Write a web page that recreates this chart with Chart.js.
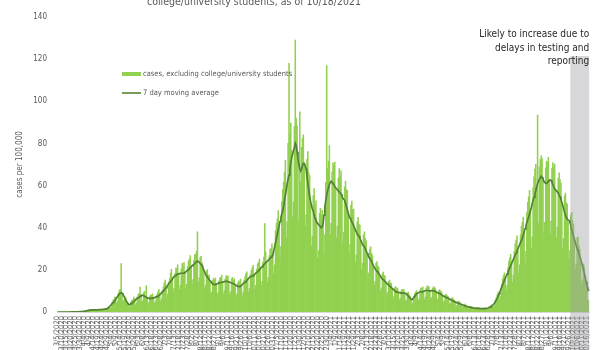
<!DOCTYPE html>
<html>
<head>
<meta charset="utf-8">
<script src="https://cdn.jsdelivr.net/npm/chart.js@4.4.0/dist/chart.umd.min.js"></script>
<style>
  html, body { margin: 0; padding: 0; background: #fff; overflow: hidden; }
</style>
</head>
<body>
<canvas id="chart" width="600" height="350"></canvas>
<script>
// daily cases per 100,000 (excluding college/university students), starting 3/5/2020
const cases = [
  0,0,0,0,0,0,0,
  0,0,0,0,0,0,0.1,
  0,0.1,0.1,0.1,0.1,0.2,0.1,
  0.1,0.1,0.2,0.2,0.2,0.3,0.2,
  0.2,0.3,0.4,0.4,0.6,0.7,0.9,
  0.9,1,0.8,1.2,1.1,0.9,1,
  1.1,0.8,1.2,1,1.3,1.1,0.9,
  1.2,1.3,1,1.5,1.6,1.4,1.8,
  2.1,2.6,2.4,1.6,2.3,4.6,5.5,
  5.9,7.2,6.8,4.1,5.2,9.1,10.4,
  10.8,23,8.1,5.2,5.6,7.3,6.9,
  5.1,4.6,3.8,2.2,2.9,4.8,5.6,
  5.8,7.1,6.2,3.4,4.3,7.2,8.4,
  8.9,11.8,7.6,4.6,5.4,9.2,9.8,
  7.8,12.5,6.4,3.9,4.6,7.6,8.1,
  7.9,8.6,6.7,4.1,4.8,7.6,8.4,
  9.6,10.8,8.9,5.1,6.2,10.2,11.8,
  13.8,15.1,12.4,7.2,8.6,14.1,15.9,
  18.5,20.2,16.4,9.8,11.2,18.4,20.8,
  20.9,22.4,17.9,10.8,12.6,20.5,23.1,
  21.8,23.5,19.2,11.4,13.1,21.6,24.2,
  25.1,26.8,21.9,13.1,15.4,24.6,27.2,
  27.5,28.9,38,14.1,16.2,25.8,26.4,
  23.4,22.1,18.6,11.2,12.8,19.4,20.1,
  17.1,17.6,14.2,8.4,9.6,15.2,16.1,
  15.2,16.1,13.1,8.1,9.2,14.8,16.2,
  16.4,17.5,14.1,8.6,10.1,15.8,17.3,
  16.8,17.2,14.2,8.4,9.6,15.6,16.4,
  15.1,15.8,12.6,7.5,8.6,13.9,14.8,
  14.2,15.6,12.8,7.8,9.4,15.1,16.8,
  18.2,19.1,15.9,9.6,11.2,17.9,19.8,
  20.8,22.1,18.1,10.9,12.6,20.4,22.9,
  23.4,25.1,21.2,12.6,14.5,23.6,26.2,
  42,28.6,23.9,14.2,16.4,26.8,29.7,
  30.1,32.4,28.2,18.1,22.4,38.6,42.1,
  44.2,48.1,42.6,25.8,31.2,52.4,58.1,
  61.5,66.2,72,35.1,42.8,80,118,
  84.2,89.6,76.8,45.1,52.3,88,129,
  92,88.4,72.1,42.6,95,61.8,78.2,
  82.4,84.1,69.5,40.8,46.2,72.4,76.1,
  66.2,64.8,52.1,31.4,35.8,55.2,58.6,
  51.2,52.8,42.9,25.6,29.1,46.8,49.2,
  46.1,48.2,41.2,27.6,36.8,61.4,117,
  68.2,71.6,79,36.8,42.1,66.5,70.8,
  69.4,71.2,58.6,35.2,40.6,63.5,68.1,
  64.2,67,55.1,32.6,37.8,59.4,62.1,
  58.1,57.6,47.2,28.1,32.2,50.8,52.6,
  48.6,48.9,39.8,23.6,27.1,42.8,44.9,
  41.6,41.2,33.9,20.1,23.2,36.5,38.1,
  34.8,33.8,27.6,16.2,18.6,29.8,30.9,
  27.9,26.8,21.8,12.9,14.6,23.1,23.9,
  21.9,21.2,17.1,10.1,11.4,18.1,18.9,
  17.4,17.1,13.8,8.2,9.4,14.5,15.2,
  13.9,13.6,11.1,6.5,7.4,11.6,12.1,
  10.9,11.3,9.2,5.6,6.4,10.1,10.8,
  10.4,10.6,8.8,5.1,5.8,9.1,9.4,
  8.1,7.6,6.1,3.7,4.5,7.4,8.8,
  9.4,10.2,8.9,5.4,6.3,10.4,11.5,
  11.2,11.9,9.8,5.9,7.1,11.3,12.4,
  11.8,12.1,10.1,6.1,7,11.2,12.1,
  11.4,11.5,9.4,5.6,6.4,10.2,10.6,
  9.8,9.6,7.8,4.7,5.3,8.2,8.5,
  7.8,7.6,6.1,3.7,4.2,6.5,6.8,
  6.1,5.8,4.7,2.8,3.1,5,5.2,
  4.7,4.4,3.5,2.1,2.4,3.6,3.7,
  3.3,3.1,2.5,1.5,1.7,2.6,2.7,
  2.4,2.3,1.9,1.1,1.3,2,2.1,
  2,1.9,1.6,1,1.1,1.8,1.9,
  1.9,2,1.7,1.1,1.3,2.3,2.8,
  3.1,3.5,3.2,2.2,3,5.5,6.9,
  8.1,9.4,8.8,5.9,7.6,13.2,15.8,
  17.2,18.6,16.1,10.4,12.6,21.1,24.2,
  25.8,27.4,23.1,14.2,17.5,28.8,32.4,
  34.1,36.2,30.4,18.6,22.4,36.8,40.6,
  42.6,45.1,38.6,23.4,28.8,47.2,52.1,
  54.6,57.8,48.9,30.1,35.6,58.9,64.2,
  67.8,70.1,58.6,93.5,42.1,68.9,72.3,
  74.1,72.8,61.2,37.5,42.6,68.4,71.6,
  71.2,73.4,62.1,37.2,43.1,68.2,70.9,
  68.6,70.1,58.2,35.1,40.2,63.5,66.1,
  62.8,61.2,51.4,30.6,34.8,55.1,56.4,
  51.8,51.2,42.6,25.4,29.2,46.1,47.3,
  43.1,41.6,33.9,20.1,22.8,35.2,35.6,
  31.6,29.8,23.4,13.6,15.2,22.8,21.4,
  17.2,14.8,10.6,5.8,5.1
];

// 7 day moving average, same days
const movingAvg = [
  0,0,0,0,0,0,0,
  0,0,0,0,0,0,0,
  0,0,0.1,0.1,0.1,0.1,0.1,
  0.1,0.1,0.1,0.1,0.2,0.2,0.2,
  0.2,0.3,0.3,0.4,0.5,0.6,0.7,
  0.8,0.9,0.9,1,1,1,1,
  1,1,1,1,1.1,1.1,1.1,
  1.1,1.2,1.2,1.3,1.4,1.5,1.6,
  1.8,2.1,2.5,3,3.5,4,4.5,
  5,5.6,6.2,6.8,7.4,8,8.5,
  9,9.2,9,8.3,7.5,6.6,5.8,
  5,4.3,3.8,3.5,3.6,4,4.3,
  4.5,4.9,5.3,5.8,6.2,6.5,6.8,
  7,7.4,7.8,8,7.9,7.7,7.5,
  7.3,7,6.8,6.6,6.5,6.5,6.5,
  6.5,6.6,6.7,6.8,7,7.2,7.3,
  7.5,7.8,8.2,8.6,9.1,9.6,10,
  10.4,11,11.6,12.2,12.8,13.4,14,
  14.5,15,15.6,16.2,16.8,17.2,17.5,
  17.8,18,18.1,18.2,18.3,18.4,18.4,
  18.4,18.5,18.7,19,19.4,19.8,20.1,
  20.5,21,21.5,22,22.3,22.6,23,
  23.5,23.8,24.2,24,23.6,23,22.6,
  22,21,20,19,18,17.2,16.5,
  16,15.4,14.8,14.3,13.8,13.4,13.1,
  13,13,13.2,13.4,13.6,13.8,13.9,
  14,14.1,14.2,14.3,14.4,14.5,14.5,
  14.5,14.4,14.3,14.1,14,13.8,13.6,
  13.5,13.3,13,12.7,12.4,12.2,12,
  12,12.2,12.6,13,13.5,13.9,14.2,
  14.5,15,15.5,16,16.4,16.7,16.9,
  17,17.3,17.6,18,18.4,18.8,19.2,
  19.5,20,20.5,21,21.5,22,22.5,
  23,23.4,23.8,24.2,24.6,25,25.5,
  26,26.5,27,29,31,33,35,
  37,39,41,43,45,46.5,48,
  50,53,55.5,58,61,63,65,
  68,71,73.5,75,76.5,78,80,
  79,76,73,70,68,67,68,
  69.5,70.5,70.5,69.5,68,64,61,
  58,55,52.5,50.5,49,48,46,
  44.5,43.5,42.5,42,41.5,41,40.5,
  40,40.5,42,46,50,53,55.5,
  57.5,59,60.5,61.5,62,61.5,61,
  60.5,59.5,59,58.5,58,57.5,57,
  56.5,56,55,54,53.5,53,51.5,
  50,48.5,47,45.5,44.5,43.7,42.8,
  42,41,40,39,38,37,36.5,
  36,35,34,33,32,31.5,31,
  30,29,28,27,26,25.5,24.7,
  24,23,22,21.2,20.5,19.8,19.3,
  19,18.3,17.6,16.8,16.2,15.6,15.3,
  15,14.5,14,13.6,13.2,12.8,12.4,
  12,11.6,11.2,10.8,10.4,10,9.7,
  9.5,9.4,9.3,9.2,9.1,9,9,
  9,9,9,8.8,8.5,8,7.5,
  7,6.5,6.2,6,6.3,6.8,7.4,
  8,8.5,8.9,9.2,9.4,9.5,9.5,
  9.5,9.6,9.8,10,10.1,10.2,10.2,
  10.2,10.1,10,10,10.1,10.1,10,
  10,9.8,9.6,9.3,9.1,8.9,8.7,
  8.5,8.2,7.9,7.6,7.3,7.1,6.9,
  6.8,6.6,6.4,6.1,5.9,5.6,5.4,
  5.2,5,4.8,4.6,4.4,4.3,4.1,
  4,3.8,3.6,3.4,3.2,3,2.9,
  2.8,2.6,2.5,2.4,2.3,2.2,2.1,
  2,1.9,1.9,1.8,1.8,1.7,1.7,
  1.7,1.7,1.6,1.6,1.6,1.6,1.6,
  1.6,1.6,1.7,1.8,1.9,2.1,2.3,
  2.5,2.8,3.2,3.7,4.3,5,5.7,
  6.5,7.5,8.6,9.7,10.8,11.8,12.9,
  14,15,16,17,18,19,20,
  21,22,23,24,25,26,27,
  28,29,30,31,32,33,34,
  35,36.5,38,39.5,41,42.5,43.8,
  45,46.5,48,49.5,51.5,53,54.5,
  56,57.5,59.5,61,62,63,63.8,
  64.5,64,63,62,61.5,61,61,
  61.5,62,62.5,62.7,62.5,61.5,60.5,
  59.5,58.5,58,57.5,57,56.5,55.5,
  54.7,53.5,52,50.5,49,47.5,46,
  45,44,43.7,43.5,42.5,41,39,
  37.5,36,34.5,33,31.5,30,29,
  28,26.5,25,23.5,22,20,18.5,
  16.5,14.5,12.5,11.4,10
];

const yTicks = [0, 20, 40, 60, 80, 100, 120, 140];
const labelEvery = 5;
const shadeFrom = '9/28/2021';
const shadeTop = 121.5;

const titleText = 'college/university students, as of 10/18/2021';
const noteLines = ['Likely to increase due to', 'delays in testing and', 'reporting'];

// date categories, one per day from 3/5/2020
const dates = [];
for (let i = 0; i < cases.length; i++) {
  const d = new Date(2020, 2, 5 + i);
  dates.push((d.getMonth() + 1) + '/' + d.getDate() + '/' + d.getFullYear());
}

const FONT = '"Liberation Sans Narrow", "DejaVu Sans Condensed", sans-serif';
const GRAY = '#595959';

const overlay = {
  id: 'overlay',
  afterDraw(chart) {
    const { ctx, chartArea, scales: { x, y } } = chart;
    ctx.save();

    // shaded "incomplete data" band
    const step = x.width / dates.length;
    const left = x.getPixelForValue(dates.indexOf(shadeFrom)) - step / 2;
    const top = y.getPixelForValue(shadeTop);
    ctx.fillStyle = 'rgba(160,160,165,0.42)';
    ctx.fillRect(left, top, chartArea.right - left, chart.height - top);

    // title (only its lower line peeks in at the top edge)
    ctx.fillStyle = GRAY;
    ctx.font = '10.5px ' + FONT;
    ctx.textAlign = 'center';
    ctx.textBaseline = 'alphabetic';
    ctx.fillText(titleText, 254, 5);

    // note
    ctx.fillStyle = '#262626';
    ctx.font = '10px ' + FONT;
    ctx.textAlign = 'right';
    noteLines.forEach((t, i) => ctx.fillText(t, chartArea.right, 37 + i * 13.7));

    // legend inside the plot
    const ds = chart.data.datasets;
    ctx.textAlign = 'left';
    ctx.textBaseline = 'middle';
    ctx.font = '7.5px ' + FONT;
    ctx.fillStyle = ds[1].backgroundColor;
    ctx.fillRect(122, 72, 19, 4);
    ctx.fillStyle = GRAY;
    ctx.fillText(ds[1].label, 143, 74);
    ctx.strokeStyle = ds[0].borderColor;
    ctx.lineWidth = 1.6;
    ctx.beginPath();
    ctx.moveTo(122, 93);
    ctx.lineTo(141, 93);
    ctx.stroke();
    ctx.fillText(ds[0].label, 143, 93);

    ctx.restore();
  }
};

new Chart(document.getElementById('chart'), {
  type: 'bar',
  data: {
    labels: dates,
    datasets: [{
      type: 'line',
      label: '7 day moving average',
      data: movingAvg,
      borderColor: '#548235',
      borderWidth: 1.7,
      pointRadius: 0,
      tension: 0,
      order: 0
    }, {
      label: 'cases, excluding college/university students',
      data: cases,
      backgroundColor: '#92D050',
      borderWidth: 0,
      barPercentage: 1,
      categoryPercentage: 1,
      order: 1
    }]
  },
  options: {
    responsive: false,
    animation: false,
    layout: { padding: { top: 17, right: 8, left: 0, bottom: 0 } },
    plugins: {
      legend: { display: false },
      tooltip: { enabled: false }
    },
    scales: {
      x: {
        grid: { display: false, drawTicks: false },
        border: { color: '#d9d9d9' },
        ticks: {
          autoSkip: false,
          minRotation: 90,
          maxRotation: 90,
          padding: 4,
          color: GRAY,
          font: { size: 7.5, family: FONT },
          callback: (v, i) => i % labelEvery === 0 ? dates[i] : null
        },
        afterFit: s => { s.height = 38; }
      },
      y: {
        min: yTicks[0],
        max: yTicks[yTicks.length - 1],
        afterBuildTicks: s => { s.ticks = yTicks.map(v => ({ value: v })); },
        grid: { display: false, drawTicks: false },
        border: { display: false },
        ticks: { padding: 10, color: GRAY, font: { size: 8, family: FONT } },
        title: {
          display: true,
          text: 'cases per 100,000',
          color: GRAY,
          font: { size: 8, family: FONT },
          padding: { top: 15, bottom: 0 }
        },
        afterFit: s => { s.width = 57; }
      }
    }
  },
  plugins: [overlay]
});
</script>
</body>
</html>
